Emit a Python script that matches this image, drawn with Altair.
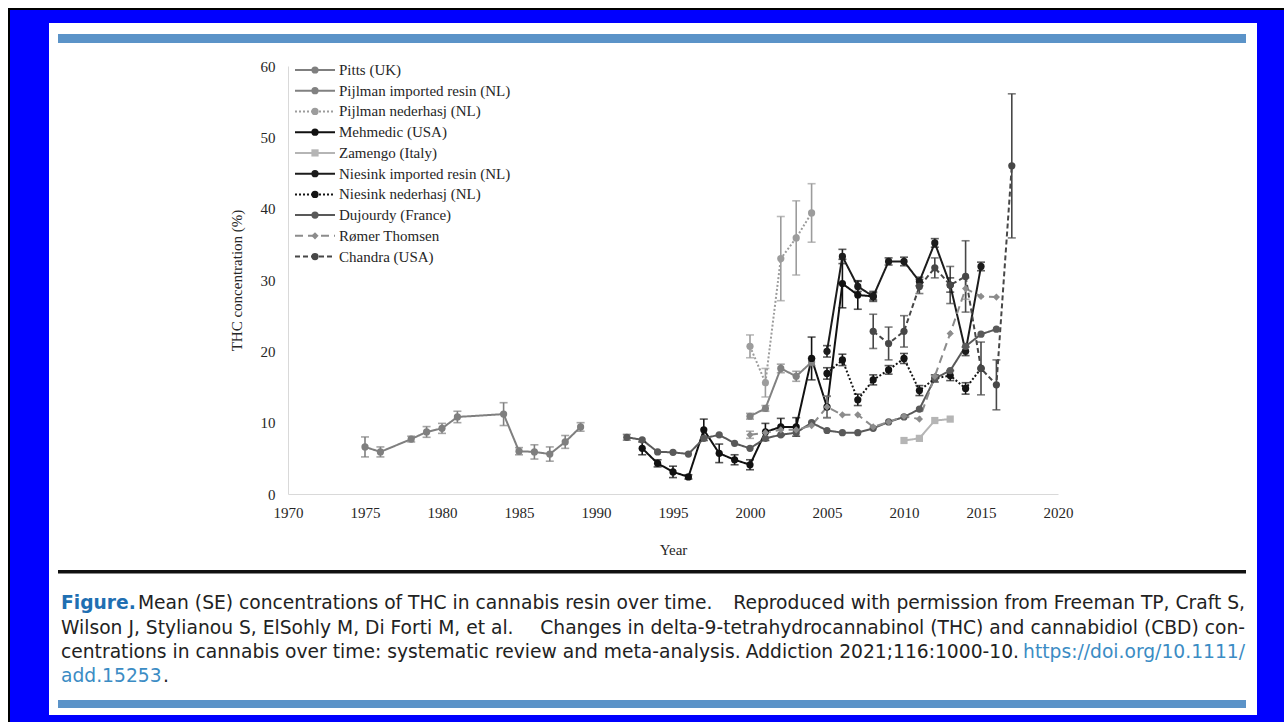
import altair as alt
import pandas as pd

# ---------------- data ----------------
SERIES = ["Pitts (UK)", "Pijlman imported resin (NL)", "Pijlman nederhasj (NL)",
          "Mehmedic (USA)", "Zamengo (Italy)", "Niesink imported resin (NL)",
          "Niesink nederhasj (NL)", "Dujourdy (France)", "Rømer Thomsen", "Chandra (USA)"]
COLORS = ["#7f7f7f", "#818181", "#9c9c9c", "#111111", "#b5b5b5", "#1c1c1c",
          "#141414", "#595959", "#8c8c8c", "#474747"]
DASHES = [[1, 0], [1, 0], [2, 2], [1, 0], [1, 0], [1, 0], [2, 2], [1, 0], [8, 5], [5, 3]]
SHAPES = ["circle", "circle", "circle", "circle", "square", "circle", "circle",
          "circle", "diamond", "circle"]

pitts_years = [1975, 1976, 1978, 1979, 1980, 1981, 1984, 1985, 1986, 1987, 1988, 1989]
pitts_vals = [6.6, 5.9, 7.7, 8.7, 9.2, 10.8, 11.2, 6.0, 5.9, 5.6, 7.3, 9.4]
pitts_err = [1.4, 0.7, 0.4, 0.75, 0.7, 0.8, 1.6, 0.5, 1.0, 1.0, 0.9, 0.6]

pij_imp_years = [2000, 2001, 2002, 2003, 2004]
pij_imp_vals = [10.9, 12.0, 17.6, 16.5, 18.5]
pij_imp_err = [0.4, 0.4, 0.6, 0.7, 0.5]

pij_ned_years = [2000, 2001, 2002, 2003, 2004]
pij_ned_vals = [20.7, 15.6, 33.0, 35.9, 39.4]
pij_ned_err = [1.6, 2.0, 5.9, 5.2, 4.1]

meh_years = list(range(1993, 2009))
meh_vals = [6.4, 4.3, 3.1, 2.4, 9.0, 5.7, 4.8, 4.1, 8.7, 9.4, 9.4, 19.0, 12.2, 29.5, 27.9, 27.7]
meh_err = [0.9, 0.5, 0.8, 0.3, 1.5, 1.3, 0.7, 0.7, 1.2, 1.2, 1.3, 3.0, 1.5, 3.4, 2.0, 0.5]

zam_years = [2010, 2011, 2012, 2013]
zam_vals = [7.5, 7.8, 10.3, 10.5]
zam_err = [0, 0, 0, 0]

nie_imp_years = list(range(2005, 2016))
nie_imp_vals = [20.0, 33.3, 29.1, 27.7, 32.6, 32.6, 29.8, 35.2, 29.3, 20.0, 31.9]
nie_imp_err = [0.8, 1.0, 0.7, 0.7, 0.5, 0.6, 0.6, 0.6, 1.0, 0.6, 0.6]

nie_ned_years = list(range(2005, 2016))
nie_ned_vals = [16.9, 18.8, 13.2, 16.0, 17.4, 19.0, 14.5, 16.2, 16.6, 14.8, 17.6]
nie_ned_err = [0.8, 0.8, 0.8, 0.7, 0.6, 0.7, 0.7, 0.5, 0.7, 0.8, 0]

duj_years = list(range(1992, 2017))
duj_vals = [7.95, 7.6, 5.9, 5.85, 5.6, 7.8, 8.3, 7.1, 6.4, 7.8, 8.3, 8.6, 10.0, 8.9,
            8.6, 8.6, 9.2, 10.1, 10.8, 11.9, 16.2, 17.3, 20.7, 22.4, 23.1]
duj_err = [0.4] + [0] * 24

rom_years = list(range(2000, 2017))
rom_vals = [8.3, 8.6, 9.0, 9.0, 9.6, 12.2, 11.1, 11.1, 9.4, 10.1, 10.9, 10.5, 16.5,
            22.5, 28.8, 27.7, 27.6]
rom_err = [0.5, 0, 0, 0, 0, 1.5, 0, 0, 0, 0, 0, 0, 0, 0, 1.5, 0, 0]

cha_years = list(range(2008, 2018))
cha_vals = [22.8, 21.1, 22.8, 29.1, 31.7, 29.3, 30.5, 17.6, 15.3, 46.0]
cha_err = [2.4, 2.3, 2.2, 1.0, 1.4, 2.6, 5.0, 3.7, 3.5, 10.1]

X_TICKS = list(range(1970, 2021, 5))
Y_TICKS = list(range(0, 61, 10))

CAPTION_1A = "Figure."
CAPTION_1B = "Mean (SE) concentrations of THC in cannabis resin over time."
CAPTION_1C = "Reproduced with permission from Freeman TP, Craft S,"
CAPTION_2A = "Wilson J, Stylianou S, ElSohly M, Di Forti M, et al."
CAPTION_2B = "Changes in delta-9-tetrahydrocannabinol (THC) and cannabidiol (CBD) con-"
CAPTION_3A = "centrations in cannabis over time: systematic review and meta-analysis."
CAPTION_3B = "Addiction 2021;116:1000-10."
CAPTION_3C = "https://doi.org/10.1111/"
CAPTION_4A = "add.15253"
CAPTION_4B = "."

# ---------------- tables ----------------
rows = []
for name, yrs, vals, errs in [
    (SERIES[0], pitts_years, pitts_vals, pitts_err),
    (SERIES[1], pij_imp_years, pij_imp_vals, pij_imp_err),
    (SERIES[2], pij_ned_years, pij_ned_vals, pij_ned_err),
    (SERIES[3], meh_years, meh_vals, meh_err),
    (SERIES[4], zam_years, zam_vals, zam_err),
    (SERIES[5], nie_imp_years, nie_imp_vals, nie_imp_err),
    (SERIES[6], nie_ned_years, nie_ned_vals, nie_ned_err),
    (SERIES[7], duj_years, duj_vals, duj_err),
    (SERIES[8], rom_years, rom_vals, rom_err),
    (SERIES[9], cha_years, cha_vals, cha_err),
]:
    for yr, v, e in zip(yrs, vals, errs):
        rows.append({"series": name, "year": yr, "value": v, "err": e,
                     "lo": v - e, "hi": v + e})
df = pd.DataFrame(rows)
df_err = df[df["err"] > 0]
df_leg = pd.DataFrame({"series": SERIES, "idx": list(range(len(SERIES)))})
one = pd.DataFrame({"k": [0]})

# ---------------- scales / axes ----------------
SERIF = "Liberation Serif"
TXT = "#262626"
xs = alt.Scale(domain=[1970, 2020], nice=False, zero=False)
ys = alt.Scale(domain=[0, 60], nice=False)
x_axis = alt.Axis(values=X_TICKS, format="d", title="Year", labelFont=SERIF,
                  labelFontSize=15, labelColor=TXT, domainColor="#d9d9d9",
                  ticks=False, grid=False, labelPadding=11, labelFlush=False,
                  titleFont=SERIF, titleFontSize=15, titleFontWeight="normal",
                  titleColor=TXT, titlePadding=22, zindex=1)
y_axis = alt.Axis(values=Y_TICKS, title="THC concentration (%)", labelFont=SERIF,
                  labelFontSize=15, labelColor=TXT, domainColor="#d9d9d9",
                  ticks=False, grid=False, labelPadding=13, labelFlush=False,
                  titleFont=SERIF, titleFontSize=15, titleFontWeight="normal",
                  titleColor=TXT, titlePadding=16, zindex=1)
color = alt.Color("series:N", scale=alt.Scale(domain=SERIES, range=COLORS), legend=None)
dash = alt.StrokeDash("series:N", scale=alt.Scale(domain=SERIES, range=DASHES), legend=None)
shape = alt.Shape("series:N", scale=alt.Scale(domain=SERIES, range=SHAPES), legend=None)

X = alt.X("year:Q", scale=xs, axis=x_axis)
Y = alt.Y("value:Q", scale=ys, axis=y_axis)

# ---------------- page decoration (pixel offsets from the plot origin) ----------------
def box(x1, x2, y1, y2, fill):
    return alt.Chart(one).mark_rect(color=fill).encode(
        x=alt.value(x1), x2=alt.value(x2), y=alt.value(y1), y2=alt.value(y2))

deco = [
    box(-280, 996, -58, 656, "#000000"),
    box(-278, 996, -56, 656, "#0000ff"),
    box(-239, 969, -43, 649, "#ffffff"),
    box(-230, 958, -32, -23, "#5b93c8"),
    box(-230, 958, 634, 642, "#5b93c8"),
    box(-230, 958, 504, 507.5, "#111111"),
]

CAP_FONT = "DejaVu Sans"
CAP_SIZE = 18.7

def cap(text, x, y, align="left", col="#222222", bold=False):
    return alt.Chart(one).mark_text(
        text=text, align=align, baseline="middle", font=CAP_FONT,
        fontSize=CAP_SIZE, fontWeight="bold" if bold else "normal", color=col
    ).encode(x=alt.value(x), y=alt.value(y))

BLUE1 = "#1f6fb2"
BLUE2 = "#3b8cc4"
caption = [
    cap(CAPTION_1A, -227, 537, col=BLUE1, bold=True),
    cap(CAPTION_1B, -150, 537),
    cap(CAPTION_1C, 957, 537, align="right"),
    cap(CAPTION_2A, -227, 562),
    cap(CAPTION_2B, 957, 562, align="right"),
    cap(CAPTION_3A, -227, 586),
    cap(CAPTION_3B, 731, 586, align="right"),
    cap(CAPTION_3C, 957, 586, align="right", col=BLUE2),
    cap(CAPTION_4A, -227, 610, col=BLUE2),
    cap(CAPTION_4B, -125, 610),
]

# ---------------- data marks ----------------
lines = alt.Chart(df).mark_line(strokeWidth=2).encode(
    x=X, y=Y, color=color, strokeDash=dash, detail="series:N")
points = alt.Chart(df).mark_point(filled=True, size=52, opacity=1).encode(
    x=X, y=Y, color=color, shape=shape)
err_rule = alt.Chart(df_err).mark_rule(strokeWidth=1.6).encode(
    x=X, y=alt.Y("lo:Q", scale=ys, axis=y_axis), y2="hi:Q", color=color)
cap_lo = alt.Chart(df_err).mark_tick(orient="horizontal", size=8, thickness=1.6).encode(
    x=X, y=alt.Y("lo:Q", scale=ys, axis=y_axis), color=color)
cap_hi = alt.Chart(df_err).mark_tick(orient="horizontal", size=8, thickness=1.6).encode(
    x=X, y=alt.Y("hi:Q", scale=ys, axis=y_axis), color=color)

# ---------------- legend (top-left inside the plot) ----------------
leg_base = alt.Chart(df_leg).transform_calculate(py="4 + datum.idx * 20.73")
leg_line = leg_base.mark_rule(strokeWidth=2).encode(
    x=alt.value(7), x2=alt.value(47), y=alt.Y("py:Q", scale=None, axis=None),
    color=color, strokeDash=dash)
leg_pt = leg_base.mark_point(filled=True, size=52, opacity=1).encode(
    x=alt.value(27), y=alt.Y("py:Q", scale=None, axis=None), color=color, shape=shape)
leg_txt = leg_base.mark_text(align="left", baseline="middle", font=SERIF,
                             fontSize=15, color=TXT).encode(
    x=alt.value(51), y=alt.Y("py:Q", scale=None, axis=None), text="series:N")

chart = alt.layer(
    *deco, *caption, lines, err_rule, cap_lo, cap_hi, points, leg_line, leg_pt, leg_txt
).properties(
    width=770, height=428,
    padding={"left": 288, "top": 66, "right": 226, "bottom": 228},
    autosize=alt.AutoSizeParams(type="none"),
    background="white",
).configure_view(stroke=None)

chart.save("out.html", embed_options={"renderer": "svg", "actions": False})
